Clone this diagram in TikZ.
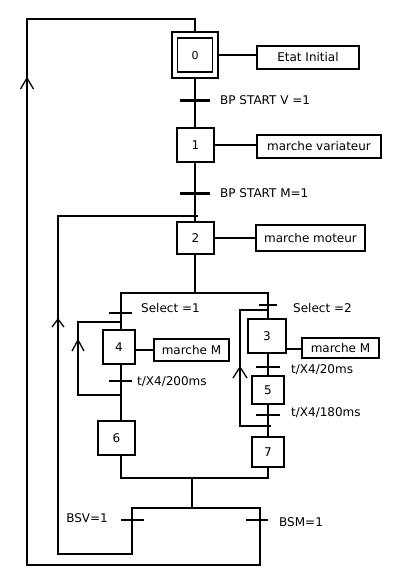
\documentclass[tikz,border=0pt]{standalone}
\usepackage{fontspec}
\setmainfont{DejaVu Sans}
\begin{document}
\begin{tikzpicture}[x=1pt,y=-1pt,
  every node/.style={font=\fontsize{12}{14}\selectfont},
  ln/.style={line width=1.3pt, line cap=rect},
  stepbox/.style={draw, line width=1.6pt, inner sep=0pt},
  actbox/.style={draw, line width=1.6pt, inner sep=0pt},
  thickbar/.style={line width=3pt},
  thinbar/.style={line width=1.3pt},
  chev/.style={line width=1.3pt},
  lbl/.style={anchor=west, inner sep=0pt}]
\useasboundingbox (0,0) rectangle (406,578);
% steps
\node[stepbox, minimum width=46pt, minimum height=46pt] (s0) at (195,55) {};
\node[stepbox, minimum width=35pt, minimum height=34pt, font=\fontsize{11}{12}\selectfont] (s0i) at (195,55) {0};
\node[stepbox, minimum width=37pt, minimum height=34pt] (s1) at (195.5,145) {1};
\node[stepbox, minimum width=37pt, minimum height=32pt] (s2) at (195.5,238) {2};
\node[stepbox, minimum width=32pt, minimum height=34pt] (s4) at (119,347) {4};
\node[stepbox, minimum width=37pt, minimum height=34pt] (s6) at (116.5,438) {6};
\node[stepbox, minimum width=38pt, minimum height=34pt] (s3) at (267,336) {3};
\node[stepbox, minimum width=32pt, minimum height=28pt] (s5) at (268,390) {5};
\node[stepbox, minimum width=32pt, minimum height=30pt] (s7) at (268,452) {7};
% actions
\node[actbox, minimum width=102pt, minimum height=23pt] (a0) at (308,57.5) {Etat Initial};
\node[actbox, minimum width=124pt, minimum height=23pt] (a1) at (319,146.5) {marche variateur};
\node[actbox, minimum width=109pt, minimum height=26pt] (a2) at (310.5,238) {marche moteur};
\node[actbox, minimum width=75pt, minimum height=22pt] (a4) at (191.5,350) {marche M};
\node[actbox, minimum width=77pt, minimum height=20pt] (a3) at (340.5,348) {marche M};
% action links
\draw[ln] (s0.east |- 0,55) -- (a0.west |- 0,55);
\draw[ln] (s1.east) -- (a1.west |- s1.east);
\draw[ln] (s2.east) -- (a2.west |- s2.east);
\draw[ln] (s4.east |- 0,350) -- (a4.west |- 0,350);
\draw[ln] (s3.east |- 0,349) -- (a3.west |- 0,349);
% coordinates
\coordinate (t01) at (195,100);
\coordinate (t12) at (195,193);
\coordinate (div) at (195,293);
\coordinate (divL) at (121,293);
\coordinate (divR) at (268,293);
\coordinate (tS1) at (121,313);
\coordinate (tS2) at (268,305);
\coordinate (t46) at (121,381);
\coordinate (t35) at (268,367);
\coordinate (t57) at (268,415);
\coordinate (jnL) at (121,478);
\coordinate (jnR) at (268,478);
\coordinate (jn) at (192,478);
\coordinate (cv) at (192,508);
\coordinate (cvL) at (132,508);
\coordinate (cvR) at (260,508);
\coordinate (tBSV) at (132,520);
\coordinate (tBSM) at (260,520);
\coordinate (oTL) at (27,19);
\coordinate (oBL) at (27,565);
\coordinate (iBL) at (58,554);
\coordinate (iTL) at (58,216);
\coordinate (iTR) at (197,216);
\coordinate (l4T) at (78,322);
\coordinate (l4B) at (78,395);
\coordinate (l3T) at (240,310);
\coordinate (l3B) at (240,426);
% main sequence
\draw[ln] (s0.south) -- (s0.south |- s1.north);
\draw[ln] (div |- s1.south) -- (div |- s2.north);
\draw[ln] (div |- s2.south) -- (div);
\draw[ln] (divL) -- (divR);
\draw[ln] (divL) -- (divL |- s4.north);
\draw[ln] (divL |- s4.south) -- (divL |- s6.north);
\draw[ln] (divL |- s6.south) -- (jnL) -- (jnR) -- (jnR |- s7.south);
\draw[ln] (divR) -- (divR |- s3.north);
\draw[ln] (s3.south -| divR) -- (s5.north);
\draw[ln] (s5.south) -- (s7.north);
\draw[ln] (jn) -- (cv);
\draw[ln] (cvL) -- (cvR);
% outer loop
\draw[ln] (s0.north) |- (oTL) -- (oBL) -| (cvR);
% inner loop
\draw[ln] (cvL) |- (iBL) -- (iTL) -- (iTR);
% step 4 loop
\draw[ln] (divL |- l4B) -- (l4B) -- (l4T) -- (divL |- l4T);
% step 3 loop
\draw[ln] (270,426) -- (l3B) -- (l3T) -- (divR |- l3T);
% chevrons
\draw[chev] (20.5,89) -- (27,78) -- (33.5,89);
\draw[chev] (52,327) -- (58,319) -- (64,327);
\draw[chev] (72,351) -- (78,340) -- (84,351);
\draw[chev] (233,378) -- (240,367) -- (247,378);
% transitions
\draw[thickbar] ([xshift=-15pt]t01) -- ([xshift=15pt]t01);
\draw[thickbar] ([xshift=-15pt]t12) -- ([xshift=15pt]t12);
\draw[thinbar] ([xshift=-12pt]tS1) -- ([xshift=11pt]tS1);
\draw[thinbar] ([xshift=-9pt]tS2) -- ([xshift=9pt]tS2);
\draw[thinbar] ([xshift=-12pt]t46) -- ([xshift=11pt]t46);
\draw[thinbar] ([xshift=-12pt]t35) -- ([xshift=12pt]t35);
\draw[thinbar] ([xshift=-12pt]t57) -- ([xshift=12pt]t57);
\draw[thinbar] ([xshift=-11pt]tBSV) -- ([xshift=12pt]tBSV);
\draw[thinbar] ([xshift=-14pt]tBSM) -- ([xshift=8pt]tBSM);
% labels
\node[lbl] (L01) at (220,100) {BP START V =1};
\node[lbl] (L12) at (220,193) {BP START M=1};
\node[lbl] (LS1) at (141,308) {Select =1};
\node[lbl] (LS2) at (293,308) {Select =2};
\node[lbl] (L46) at (137,382) {t/X4/200ms};
\node[lbl] (L35) at (291,370) {t/X4/20ms};
\node[lbl] (L57) at (291,413) {t/X4/180ms};
\node[anchor=east, inner sep=0pt] (LBSV) at (108,518) {BSV=1};
\node[lbl] (LBSM) at (279,522) {BSM=1};
\end{tikzpicture}
\end{document}
